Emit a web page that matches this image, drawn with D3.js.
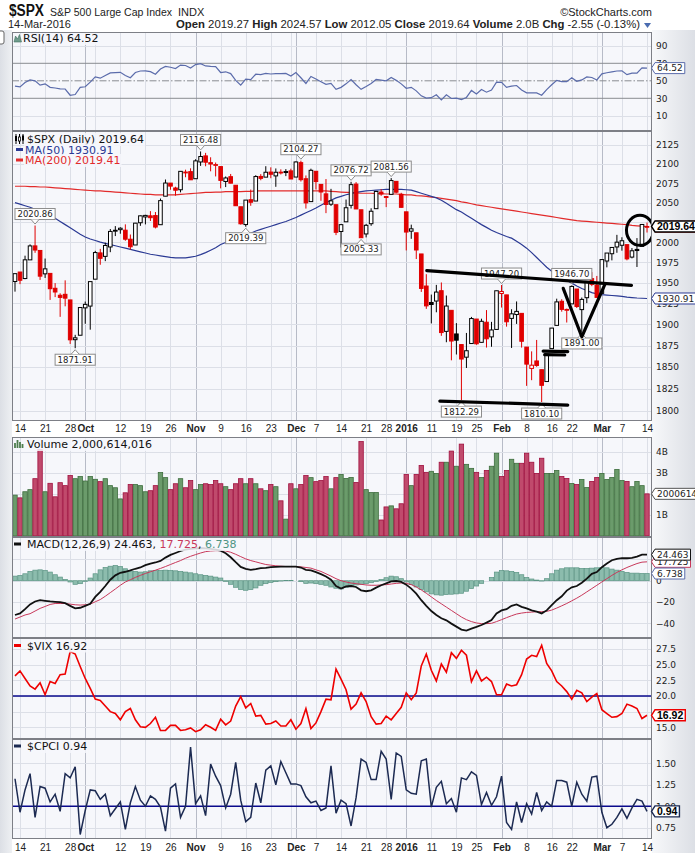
<!DOCTYPE html>
<html>
<head>
<meta charset="utf-8">
<title>$SPX</title>
<script src="https://cdn.jsdelivr.net/npm/d3@7"></script>
<style>
  html, body { margin: 0; padding: 0; background: #fff; }
  svg { display: block; }
  .ax { font: 9px "DejaVu Sans", Verdana, sans-serif; fill: #222; }
  .lg { font: 11px "DejaVu Sans", Verdana, sans-serif; }
  .xl { font: 10px "Liberation Sans", Arial, sans-serif; fill: #222; }
  .pk { font: 8.5px "DejaVu Sans", Verdana, sans-serif; fill: #222; }
  .vb { font: bold 10.5px "Liberation Sans", Arial, sans-serif; fill: #000; }
  .hd { font: 11px "Liberation Sans", Arial, sans-serif; fill: #222; }
</style>
</head>
<body>
<div id="chart"></div>
<script>
/* global d3 */

/*******************************************************************
 * Data (11-Sep-2015 .. 14-Mar-2016)
 *******************************************************************/
const dates = [
  "2015-09-11","2015-09-14","2015-09-15","2015-09-16","2015-09-17","2015-09-18","2015-09-21","2015-09-22","2015-09-23","2015-09-24","2015-09-25","2015-09-28","2015-09-29","2015-09-30",
  "2015-10-01","2015-10-02","2015-10-05","2015-10-06","2015-10-07","2015-10-08","2015-10-09","2015-10-12","2015-10-13","2015-10-14","2015-10-15","2015-10-16","2015-10-19","2015-10-20","2015-10-21","2015-10-22","2015-10-23","2015-10-26","2015-10-27","2015-10-28","2015-10-29","2015-10-30",
  "2015-11-02","2015-11-03","2015-11-04","2015-11-05","2015-11-06","2015-11-09","2015-11-10","2015-11-11","2015-11-12","2015-11-13","2015-11-16","2015-11-17","2015-11-18","2015-11-19","2015-11-20","2015-11-23","2015-11-24","2015-11-25","2015-11-27","2015-11-30",
  "2015-12-01","2015-12-02","2015-12-03","2015-12-04","2015-12-07","2015-12-08","2015-12-09","2015-12-10","2015-12-11","2015-12-14","2015-12-15","2015-12-16","2015-12-17","2015-12-18","2015-12-21","2015-12-22","2015-12-23","2015-12-24","2015-12-28","2015-12-29","2015-12-30","2015-12-31",
  "2016-01-04","2016-01-05","2016-01-06","2016-01-07","2016-01-08","2016-01-11","2016-01-12","2016-01-13","2016-01-14","2016-01-15","2016-01-19","2016-01-20","2016-01-21","2016-01-22","2016-01-25","2016-01-26","2016-01-27","2016-01-28","2016-01-29",
  "2016-02-01","2016-02-02","2016-02-03","2016-02-04","2016-02-05","2016-02-08","2016-02-09","2016-02-10","2016-02-11","2016-02-12","2016-02-16","2016-02-17","2016-02-18","2016-02-19","2016-02-22","2016-02-23","2016-02-24","2016-02-25","2016-02-26","2016-02-29",
  "2016-03-01","2016-03-02","2016-03-03","2016-03-04","2016-03-07","2016-03-08","2016-03-09","2016-03-10","2016-03-11","2016-03-14"
];

const open = [
  1951.45,1963.06,1955.10,1978.02,1995.33,1989.66,1960.84,1961.39,1943.24,1934.81,1935.93,1929.18,1881.90,1887.14,
  1919.65,1921.77,1954.33,1986.63,1982.34,1994.01,2013.73,2015.65,2015.00,2003.66,1996.47,2024.37,2031.73,2033.13,2033.47,2021.88,2058.19,2075.08,2068.75,2066.48,2088.35,2090.00,
  2080.76,2102.63,2110.60,2101.68,2098.60,2096.56,2077.19,2083.41,2072.29,2044.64,2022.08,2053.67,2051.99,2083.70,2082.82,2089.41,2084.42,2089.30,2088.82,2090.95,
  2082.93,2101.71,2080.71,2051.24,2090.42,2073.39,2061.17,2047.93,2047.27,2013.37,2025.55,2046.50,2073.76,2040.81,2010.27,2023.15,2042.20,2063.52,2057.77,2060.54,2077.34,2060.59,
  2038.20,2013.78,2011.71,1985.32,1945.97,1926.12,1927.83,1940.34,1891.68,1916.68,1888.66,1876.18,1861.46,1877.40,1906.28,1878.79,1902.52,1885.22,1894.00,
  1936.94,1935.26,1907.07,1911.67,1913.07,1873.25,1848.46,1857.10,1847.00,1833.40,1871.44,1898.80,1927.57,1916.74,1924.44,1942.38,1917.56,1931.87,1954.95,1947.13,
  1937.09,1976.60,1985.60,1994.01,1996.11,1996.88,1981.44,1990.97,1994.71,2019.27
];
const high = [
  1961.05,1963.06,1983.19,1997.26,2020.86,1989.66,1979.64,1961.39,1949.52,1937.17,1952.89,1929.18,1887.64,1920.53,
  1927.21,1951.36,1989.17,1991.62,1999.31,2016.50,2020.13,2018.66,2022.34,2009.56,2024.15,2033.54,2034.45,2039.12,2037.97,2055.20,2079.74,2075.14,2070.37,2090.35,2092.52,2094.32,
  2106.20,2116.48,2114.59,2108.78,2101.91,2096.56,2083.67,2086.94,2072.29,2044.64,2053.22,2066.69,2085.31,2086.74,2097.06,2095.61,2094.12,2093.00,2093.29,2093.81,
  2103.37,2104.27,2085.00,2093.84,2090.42,2073.85,2080.33,2067.65,2047.27,2022.92,2053.87,2076.72,2076.37,2040.81,2022.90,2042.74,2064.73,2067.36,2057.77,2081.56,2077.34,2062.54,
  2038.20,2021.94,2011.71,1985.32,1960.40,1935.65,1947.38,1950.33,1934.47,1916.68,1901.44,1876.18,1889.85,1908.85,1906.28,1906.73,1916.99,1902.96,1940.24,
  1947.20,1935.26,1918.01,1927.35,1913.07,1873.25,1868.25,1881.60,1847.00,1864.78,1895.77,1930.68,1930.00,1918.78,1946.70,1942.38,1932.08,1951.83,1962.96,1958.27,
  1978.35,1986.51,1993.69,2009.13,2006.12,1996.88,1992.69,2005.08,2022.37,2024.57
];
const low = [
  1939.19,1948.27,1954.30,1977.93,1986.73,1953.45,1955.80,1929.22,1932.57,1908.92,1921.50,1876.92,1871.91,1887.14,
  1900.70,1893.70,1954.33,1971.99,1976.44,1987.53,2007.61,2010.55,2001.78,1990.73,1996.47,2020.46,2022.31,2026.61,2017.22,2021.88,2058.19,2066.53,2058.84,2063.11,2082.63,2079.34,
  2080.76,2097.51,2096.98,2090.41,2083.74,2068.24,2069.91,2074.85,2045.66,2022.02,2019.39,2045.90,2051.99,2078.76,2082.82,2081.39,2070.29,2086.30,2084.13,2080.41,
  2082.93,2077.11,2042.35,2051.24,2066.78,2052.32,2036.53,2045.67,2008.80,1993.26,2025.55,2042.43,2041.66,2005.33,2005.93,2020.49,2042.20,2058.73,2044.20,2060.54,2061.97,2043.62,
  1989.68,2004.17,1979.05,1938.83,1918.46,1901.10,1914.35,1886.41,1878.93,1857.83,1864.60,1812.29,1848.98,1877.40,1875.97,1878.79,1872.70,1873.65,1894.00,
  1920.03,1897.29,1872.23,1900.52,1872.65,1828.46,1834.94,1850.32,1810.10,1833.40,1871.44,1898.80,1915.09,1902.17,1924.44,1919.44,1891.00,1925.41,1945.78,1931.81,
  1937.09,1968.80,1977.37,1986.77,1989.38,1977.43,1979.84,1969.25,1994.71,2012.05
];
const close = [
  1961.05,1953.03,1978.09,1995.31,1990.20,1958.03,1966.97,1942.74,1938.76,1932.24,1931.34,1881.77,1884.09,1920.03,
  1923.82,1951.36,1987.05,1979.92,1995.83,2013.43,2014.89,2017.46,2003.69,1994.24,2023.86,2033.11,2033.66,2030.77,2018.94,2052.51,2075.15,2071.18,2065.89,2090.35,2089.41,2079.36,
  2104.05,2109.79,2102.31,2099.93,2099.20,2078.58,2081.72,2075.00,2045.97,2023.04,2053.19,2050.44,2083.58,2081.24,2089.17,2086.59,2089.14,2088.87,2090.11,2080.41,
  2102.63,2079.51,2049.62,2091.69,2077.07,2063.59,2047.62,2052.23,2012.37,2021.94,2043.41,2073.07,2041.89,2005.55,2021.15,2038.97,2064.29,2060.99,2056.50,2078.36,2063.36,2043.94,
  2012.66,2016.71,1990.26,1943.09,1922.03,1923.67,1938.68,1890.28,1921.84,1880.33,1881.33,1859.33,1868.99,1906.90,1877.08,1903.63,1882.95,1893.36,1940.24,
  1939.38,1903.03,1912.53,1915.45,1880.05,1853.44,1852.21,1851.86,1829.08,1864.78,1895.58,1926.82,1917.83,1917.78,1945.50,1921.27,1929.80,1951.70,1948.05,1932.23,
  1978.35,1986.45,1993.40,1999.99,2001.76,1979.26,1989.26,1989.57,2022.19,2019.64
];
const prevClose = 1952.29;

// billions of shares
const volume = [
  1.94,1.81,2.10,2.20,2.72,4.10,2.10,2.50,1.86,2.53,
  2.39,2.87,2.72,2.82,2.61,2.82,2.69,2.58,2.72,2.39,
  2.29,1.76,2.05,2.44,2.44,2.39,2.10,2.15,2.39,3.01,
  2.77,2.20,2.48,2.72,2.29,2.63,2.20,2.44,2.48,2.44,
  2.63,2.48,2.34,2.20,2.48,2.72,2.48,2.72,2.48,2.24,
  2.15,2.44,2.34,1.67,0.80,2.48,2.24,2.44,2.87,2.77,
  2.58,2.63,2.82,2.24,2.77,2.92,2.73,2.78,2.54,4.48,
  2.20,2.06,2.06,0.76,1.38,1.43,1.29,1.53,2.92,2.39,
  2.92,3.35,3.02,3.07,2.97,3.50,3.50,4.03,3.31,4.36,
  3.40,3.21,3.02,2.78,3.11,3.31,3.93,2.82,3.11,3.64,
  3.45,3.45,3.93,3.50,2.97,3.69,2.97,2.97,3.11,2.82,
  2.73,2.49,2.44,2.68,2.30,2.59,2.78,2.97,2.68,2.78,
  3.16,2.63,2.59,2.34,2.59,2.39,2.000614016
];

const ma50 = [
  2050,2048,2046,2044,2041.5,2039,2036,2033,2030,2026,
  2022,2018,2014,2010,2006.5,2004,2002,2000,1998.5,1997,
  1995.5,1994,1992.5,1991,1989.5,1988,1986.5,1985,1984,1983,
  1982,1981,1980.5,1980.5,1980.5,1981.5,1982.5,1984.5,1987,1990,
  1993,1997,1999.5,2001.5,2003.5,2006,2009,2011,2014,2016,
  2018,2020,2022,2024,2026,2028.5,2031,2034,2037,2040,
  2043,2046.5,2050,2053,2056,2058,2060,2061.5,2063,2064,
  2065,2065.5,2066,2066.5,2067,2067,2067,2067,2066.5,2066,
  2064,2062,2060,2058,2056,2053,2049,2045,2041,2038,
  2034,2030,2026,2022,2018.5,2015,2012,2009.5,2007,2005,
  2001,1997,1992.5,1987,1981,1975,1969,1964,1960,1956.5,
  1953,1949.5,1946,1943,1940.5,1938,1936.5,1935.5,1935,1934.5,
  1934,1933.5,1932.5,1932,1931.5,1931.2,1930.91
];
const ma200 = [
  2071,2071,2071,2070.5,2070.5,2070,2070,2069.5,2069,2068.5,
  2068,2067.5,2067,2066.5,2066,2065.5,2065,2065,2064.5,2064,
  2063.5,2063,2062.5,2062,2061.5,2061,2060.5,2060.5,2060,2060,
  2060,2060,2060,2060.5,2061,2061.5,2062,2062.5,2063,2063,
  2063.5,2063.5,2064,2064,2064,2064,2064.5,2064.5,2065,2065,
  2065,2065,2065,2065,2065,2065,2065,2065,2065,2065,
  2065,2065,2065,2064.5,2064,2063.5,2063,2063,2062.5,2062,
  2062,2062,2061.5,2061.5,2061,2061,2061,2060.5,2060,2060,
  2059,2058.5,2058,2057,2056.5,2055.5,2054.5,2053.5,2052.5,2051,
  2050,2048.5,2047,2046,2045,2044,2043,2042,2041,2040,
  2039,2038,2037,2036,2035,2034,2033,2032,2031,2030,
  2029,2028,2027,2026.5,2026,2025.5,2025,2024.5,2024,2023.5,
  2023,2022.5,2022,2021,2020.5,2020,2019.41
];

const rsi = [
  44,43,48,51,50,45,46.5,42.5,41.8,40.8,
  40.6,33.5,34.3,42.5,43.2,48.5,54.5,53,56,59,
  59.3,59.7,56,53.5,59.5,61.2,61.3,60.5,57.5,63.5,
  66.5,65.5,64,68,67.5,64.5,68.5,69.5,67,66.5,
  66.2,59.5,60.3,58.2,50.5,45,52,51.3,57.5,57,
  58.5,57.8,58.2,58.1,58.4,55.5,59.5,53.5,47,55,
  52,49,46,47,40.2,42.5,46.5,51.5,45.5,40.2,
  43.5,47,51.5,50.8,50,53.8,50.5,46.5,41.5,42.5,
  38.5,32.8,30.2,30.7,34,28.2,34,29.8,30.1,28.5,
  31,39,35,40,37,39.5,48.5,48.3,42.5,44,
  44.6,39.5,36.3,36.2,36.1,33.5,40,45.5,50.5,49,
  49,53.5,49.5,51,54.5,53.8,51,58,59.2,60.3,
  61.2,61.5,57,58.7,58.8,64.8,64.52
];

const macd = [
  -32.2,-30.7,-26.7,-22.3,-19.5,-18.3,-18.9,-19.5,-19.8,-20.2,
  -21.1,-23.6,-26,-25.4,-23.6,-21.7,-15.2,-10.5,-5,0.9,
  5,7.4,8.4,9.6,11.2,12.4,14.6,16.1,17.1,18.6,
  21.7,24.2,26,27.9,29.1,29.8,30.4,30.7,30.4,29.8,
  29.1,28.2,25.7,22,17.4,13,11.2,10.2,10.9,11.8,
  12.1,12.7,13,13.3,13.3,13.3,13.3,12.4,10.2,9.6,
  8.1,6.2,4,0.9,-5,-7.4,-5.3,-5,-5.9,-9,
  -9.9,-9,-6.5,-4.3,-2.5,-0.6,-0.3,-1.2,-3.7,-7.4,
  -12.1,-18.3,-23.6,-28.5,-32.2,-35.3,-37.2,-40.3,-43.1,-45.9,
  -46.8,-45,-43.4,-41.6,-39.4,-36.9,-30.7,-27.9,-26.7,-23.6,
  -22.3,-24.5,-26,-27.9,-29.1,-30.7,-27.9,-22.9,-18.3,-14.6,
  -9.3,-6.2,-5,-1.9,1.9,6.5,8.1,12.7,16.1,19.2,
  20.5,21.1,21.1,21.4,22.6,24.5,24.463
];
const signal = [
  -36,-34.1,-32.2,-31,-28.5,-26,-24.2,-22.3,-21.4,-21.4,
  -21.4,-22,-22.6,-22.9,-22.6,-22,-19.8,-17.7,-14.6,-11.2,
  -7.8,-4.3,-1.2,0.9,3.1,5,6.8,8.4,9.9,11.5,
  13.3,15.2,17.1,18.9,21.1,22.9,24.5,26,27.3,27.9,
  28.2,28.2,27.9,26.7,24.8,22.6,20.5,18.9,17.7,16.4,
  15.2,14.6,14,13.6,13.3,13.3,13.3,13,12.4,11.8,
  10.2,8.7,6.5,4.3,1.9,0,-1.2,-2.2,-2.8,-3.4,
  -4,-4.3,-4.3,-4,-3.7,-3.1,-2.5,-2.2,-2.5,-3.7,
  -5.9,-8.7,-11.8,-15.2,-18.6,-21.7,-24.8,-27.9,-31,-34.1,
  -36.6,-38.4,-39.7,-40.3,-40.3,-40,-38.4,-36.6,-34.7,-32.9,
  -31.3,-30.4,-29.8,-29.5,-29.1,-29.1,-28.8,-27.6,-25.7,-23.6,
  -21.4,-18.9,-16.4,-13.6,-10.5,-7.4,-4.3,-1.2,1.9,5,
  7.8,10.2,12.4,14.3,16.1,17.4,17.725
];
const hist = [
  4.3,5,6.5,8.7,9.9,10.2,9.6,8.1,5.6,3.4,
  1.2,-1.2,-3.4,-2.8,-0.6,2.5,6.5,10.2,12.4,13.6,
  14.3,13.3,11.2,9,8.7,8.1,8.4,9.3,9.6,9.6,
  9.9,9.6,9.3,8.7,8.1,7.4,6.5,5.6,5,4.3,
  3.4,2.5,-0.6,-3.4,-6.2,-8.4,-9,-8.4,-6.8,-4.3,
  -2.8,-1.6,-0.9,-0.3,0.3,0.3,0,-0.9,-2.5,-2.2,
  -2.8,-3.4,-4.3,-5.9,-7.1,-7.8,-6.2,-4.7,-4,-3.4,
  -2.8,-1.9,-0.6,1.2,2.8,4.3,3.7,1.9,-1.2,-3.7,
  -5.9,-8.4,-10.5,-12.4,-13.3,-13.6,-13,-12.7,-12.4,-11.8,
  -9.9,-7.4,-5,-2.5,0,3.1,8.1,9.6,9.3,8.7,
  7.8,5.6,3.1,1.6,0.6,-0.3,1.9,6.5,9.9,11.2,
  12.1,12.1,12.1,11.5,11.5,11.8,12.1,12.4,12.1,10.9,
  9.9,8.7,7.8,7.1,7.1,6.8,6.738
];

const vix = [
  23.2,24.0,22.8,21.6,21.1,22.1,20.2,22.3,22.0,23.4,
  23.5,27.1,26.7,24.7,22.8,21.2,19.5,19.3,18.4,17.5,
  17.2,16.2,17.5,18.0,16.2,15.1,15.0,15.6,16.6,14.5,
  14.5,15.3,15.3,14.5,14.6,14.9,14.3,14.6,15.4,15.0,
  14.5,16.3,15.4,16.0,18.4,19.9,18.1,18.8,16.8,16.9,
  15.5,15.6,16.0,15.2,15.2,16.2,14.7,15.6,18.0,14.8,
  15.7,17.5,19.5,19.4,24.3,22.7,21.0,17.9,18.7,20.5,
  19.1,16.7,15.5,15.6,16.8,16.2,17.2,18.2,20.5,19.4,
  20.5,24.8,26.7,24.1,22.4,25.1,23.8,26.9,26.0,27.3,
  26.5,22.3,24.0,22.4,23.0,22.3,20.2,20.2,21.9,21.6,
  21.8,23.4,25.9,26.5,26.3,28.1,25.2,24.0,22.3,21.6,
  20.7,19.5,20.9,20.5,19.1,19.8,20.4,17.8,17.2,16.6,
  16.7,17.2,18.7,18.4,18.0,16.4,16.92
];

const cpci = [
  1.32,0.93,1.19,1.38,0.87,1.23,1.21,1.05,1.14,0.94,
  1.38,1.33,1.46,0.67,0.95,1.19,1.18,1.08,1.14,0.89,
  0.97,1.05,0.73,1.04,1.23,1.07,1.00,1.12,1.08,0.99,
  0.71,1.21,1.26,0.87,1.00,1.69,1.03,1.12,0.89,1.49,
  1.35,1.24,0.98,1.14,1.51,1.07,0.82,0.87,1.27,1.04,
  1.42,1.47,1.25,1.52,1.39,1.26,1.26,1.24,1.11,1.04,
  1.06,0.95,0.98,1.47,0.92,1.07,1.03,0.77,1.10,1.55,
  1.51,1.31,1.31,1.64,1.55,1.08,1.62,1.58,1.19,1.15,
  1.14,1.53,1.55,0.99,1.22,1.29,1.03,1.09,0.93,1.33,
  1.31,1.40,1.36,1.02,1.16,1.01,1.11,1.35,0.81,0.73,
  1.05,0.81,1.03,0.91,1.16,0.95,1.05,1.00,1.30,1.30,
  1.28,1.00,1.28,1.14,1.06,1.34,1.35,0.93,0.75,0.79,
  0.87,0.97,0.86,0.98,1.08,1.06,0.94
];

// date axis
const tickDates = ["2015-09-14","2015-09-21","2015-09-28","2015-10-01","2015-10-12","2015-10-19","2015-10-26","2015-11-02","2015-11-09","2015-11-16","2015-11-23","2015-12-01","2015-12-07","2015-12-14","2015-12-21","2015-12-28","2016-01-04","2016-01-11","2016-01-19","2016-01-25","2016-02-01","2016-02-08","2016-02-16","2016-02-22","2016-03-01","2016-03-07","2016-03-14"];
const tickText  = ["14","21","28","Oct","12","19","26","Nov","9","16","23","Dec","7","14","21","28","2016","11","19","25","Feb","8","16","22","Mar","7","14"];
const extraGridDates = ["2015-10-05","2015-11-30","2016-02-29"];
const monthStarts = ["2015-10-01","2015-11-02","2015-12-01","2016-01-04","2016-02-01","2016-03-01"];

// grid values and the labels left visible on the right axes
const rsiGrid    = [10, 90];
const rsiTicks   = [10, 30, 50, 70, 90];
const priceGrid  = [1800, 1825, 1850, 1875, 1900, 1925, 1950, 1975, 2000, 2025, 2050, 2075, 2100, 2125];
const priceTicks = [1800, 1825, 1850, 1875, 1900, 1925, 1950, 1975, 2000, 2050, 2075, 2100, 2125];
const volGrid    = [1, 2, 3, 4];
const volTicks   = [1, 3, 4];
const macdGrid   = [-40, -20, 0, 20];
const macdTicks  = [-40, -20, 0];
const vixGrid    = [15, 17.5, 20, 22.5, 25, 27.5];
const vixTicks   = [15, 20, 22.5, 25, 27.5];
const cpciGrid   = [0.75, 1, 1.25, 1.5];
const cpciTicks  = [0.75, 1, 1.25, 1.5];

// labelled highs / lows
const peakMarks = [
  ["2015-09-17","high"],["2015-09-29","low"],["2015-11-03","high"],["2015-11-16","low"],
  ["2015-12-02","high"],["2015-12-16","high"],["2015-12-18","low"],["2015-12-29","high"],
  ["2016-01-20","low"],["2016-02-01","high"],["2016-02-11","low"],["2016-02-22","high"],["2016-02-24","low"]
];

// hand drawn annotations, [trading day index, price]
const trendLines = [
  [[82.1, 1964.7], [122.9, 1946.8]],
  [[84.7, 1811.2], [110.2, 1806.7]],
  [[109.3, 1943.2], [113.0, 1885.3], [117.6, 1948.0]],
  [[105.3, 1868.6], [110.2, 1868.0]],
  [[105.6, 1864.4], [109.6, 1864.0]]
];
const circleMark = [124.6, 2014.8];

/*******************************************************************
 * Layout & scales
 *******************************************************************/
const W = 695, H = 853;
const L = 12, R = 652;
const PANEL_BG = "#f6f7fb";
const RED = "#e00000";

const idx = (d) => dates.indexOf(d);
const x = d3.scaleLinear().domain([0, dates.length - 1]).range([15, 647]);

const yR = d3.scaleLinear().domain([30, 70]).range([98.3, 63.3]);
const yP = d3.scaleLog().domain([1800, 2125]).range([411, 145]);
const yV = d3.scaleLinear().domain([0, 4]).range([536, 451.7]);
const yM = d3.scaleLinear().domain([-40, 0]).range([623.3, 580.7]);
const yX = d3.scaleLinear().domain([15, 27.5]).range([727.3, 649]);
const yC = d3.scaleLinear().domain([0.75, 1.5]).range([827.7, 763.3]);

const panels = [
  { id: "rsi",   top: 32,    bottom: 130.5, y: yR, ticks: rsiTicks,   grid: rsiGrid,   fmt: d3.format("d") },
  { id: "price", top: 130.5, bottom: 421,   y: yP, ticks: priceTicks, grid: priceGrid, fmt: d3.format("d") },
  { id: "vol",   top: 437,   bottom: 537,   y: yV, ticks: volTicks,   grid: volGrid,   fmt: d => d + "B" },
  { id: "macd",  top: 537,   bottom: 638,   y: yM, ticks: macdTicks,  grid: macdGrid,  fmt: d3.format("d") },
  { id: "vix",   top: 638,   bottom: 739,   y: yX, ticks: vixTicks,   grid: vixGrid,   fmt: d3.format(".1f") },
  { id: "cpci",  top: 739,   bottom: 839,   y: yC, ticks: cpciTicks,  grid: cpciGrid,  fmt: d3.format(".2f") }
];
const P = Object.fromEntries(panels.map(p => [p.id, p]));

const svg = d3.select("#chart").append("svg").attr("width", W).attr("height", H);
const defs = svg.append("defs");

function gradient(id, c0, c1) {
  const g = defs.append("linearGradient").attr("id", id).attr("x1", 0).attr("x2", 1).attr("y1", 0).attr("y2", 0);
  g.append("stop").attr("offset", 0).attr("stop-color", c0);
  g.append("stop").attr("offset", 1).attr("stop-color", c1);
}
gradient("rightBg", "#f7f8fa", "#dcdfe5");
gradient("leftBg", "#dcdfe5", "#eef0f3");

svg.append("rect").attr("width", W).attr("height", H).attr("fill", "#fff");
svg.append("rect").attr("x", 0).attr("y", 30).attr("width", L).attr("height", H - 30).attr("fill", "url(#leftBg)");
svg.append("rect").attr("x", R).attr("y", 30).attr("width", W - R).attr("height", H - 30).attr("fill", "url(#rightBg)");
svg.append("rect").attr("x", -4).attr("y", 31).attr("width", 8).attr("height", 13).attr("rx", 2)
  .attr("fill", "#fff").attr("stroke", "#666");

/*******************************************************************
 * Panels: background, grid, right axis
 *******************************************************************/
const gridIdx = tickDates.concat(extraGridDates).map(idx);
const monthIdx = new Set(monthStarts.map(idx));

panels.forEach(p => {
  defs.append("clipPath").attr("id", "clip-" + p.id).append("rect")
    .attr("x", L).attr("y", p.top).attr("width", R - L).attr("height", p.bottom - p.top);
  svg.append("rect").attr("x", L).attr("y", p.top).attr("width", R - L).attr("height", p.bottom - p.top)
    .attr("fill", PANEL_BG);

  const grid = svg.append("g").attr("clip-path", `url(#clip-${p.id})`).attr("shape-rendering", "crispEdges");
  grid.selectAll("line.v").data(gridIdx).join("line").attr("class", "v")
    .attr("x1", d => Math.round(x(d)) + 0.5).attr("x2", d => Math.round(x(d)) + 0.5)
    .attr("y1", p.top).attr("y2", p.bottom)
    .attr("stroke", d => monthIdx.has(d) ? "#b7bbc7" : "#dcdfe7");
  grid.selectAll("line.h").data(p.grid).join("line").attr("class", "h")
    .attr("x1", L).attr("x2", R)
    .attr("y1", d => Math.round(p.y(d)) + 0.5).attr("y2", d => Math.round(p.y(d)) + 0.5)
    .attr("stroke", "#dcdfe7");

  p.g = svg.append("g").attr("clip-path", `url(#clip-${p.id})`);

  const ax = svg.append("g").attr("transform", `translate(${R},0)`)
    .call(d3.axisRight(p.y).tickValues(p.ticks).tickFormat(p.fmt).tickSize(0).tickPadding(4));
  ax.select(".domain").remove();
  ax.selectAll("text").attr("class", "ax");
});

function dateAxis(yPos, pad) {
  const tickIdx = tickDates.map(idx);
  const ax = svg.append("g").attr("transform", `translate(0,${yPos})`)
    .call(d3.axisBottom(x).tickValues(tickIdx).tickFormat((d, i) => tickText[i]).tickSize(0).tickPadding(pad));
  ax.select(".domain").remove();
  ax.selectAll("text").attr("class", "xl")
    .style("font-weight", (d, i) => (isNaN(+tickText[i]) || tickText[i].length === 4) ? "bold" : "normal");
}
dateAxis(P.price.bottom, 4);
dateAxis(P.cpci.bottom, 5);

const lineOf = (y) => d3.line().x((d, i) => x(i)).y(d => y(d));

/*******************************************************************
 * RSI
 *******************************************************************/
{
  const g = P.rsi.g;
  g.append("line").attr("x1", L).attr("x2", R).attr("y1", yR(70)).attr("y2", yR(70)).attr("stroke", "#8a8c92");
  g.append("line").attr("x1", L).attr("x2", R).attr("y1", yR(30)).attr("y2", yR(30)).attr("stroke", "#8a8c92");
  g.append("line").attr("x1", L).attr("x2", R).attr("y1", yR(50)).attr("y2", yR(50))
    .attr("stroke", "#8a8c92").attr("stroke-dasharray", "7,2,1.5,2");
  g.append("path").attr("d", lineOf(yR)(rsi)).attr("fill", "none").attr("stroke", "#5b6cab").attr("stroke-width", 1.2);
}

/*******************************************************************
 * Price: moving averages, candles, labels, annotations
 *******************************************************************/
{
  const g = P.price.g;
  g.append("path").attr("d", lineOf(yP)(ma200)).attr("fill", "none").attr("stroke", "#e22b2b").attr("stroke-width", 1.2);
  g.append("path").attr("d", lineOf(yP)(ma50)).attr("fill", "none").attr("stroke", "#2b3a94").attr("stroke-width", 1.2);

  const c = g.selectAll("g.candle").data(d3.range(close.length)).join("g").attr("class", "candle");
  c.each(function (i) {
    const s = d3.select(this);
    const pc = i ? close[i - 1] : prevClose;
    const col = close[i] >= pc ? "#000" : RED;
    const filled = close[i] < open[i];
    const cx = x(i);
    s.append("line").attr("x1", cx).attr("x2", cx).attr("y1", yP(high[i])).attr("y2", yP(low[i]))
      .attr("stroke", col).attr("stroke-width", 1);
    const y0 = yP(Math.max(open[i], close[i])), y1 = yP(Math.min(open[i], close[i]));
    s.append("rect").attr("x", cx - 1.8).attr("y", y0).attr("width", 3.6).attr("height", Math.max(0.8, y1 - y0))
      .attr("fill", filled ? col : "#fff").attr("stroke", col).attr("stroke-width", 1);
  });

  // hi / lo labels
  peakMarks.forEach(([d, side]) => {
    const i = idx(d);
    const v = side === "high" ? high[i] : low[i];
    const cx = x(i), vy = yP(v);
    const lg = g.append("g");
    const bh = 11;
    const by = side === "high" ? vy - 6 - bh : vy + 6;
    const t = lg.append("text").attr("class", "pk").attr("x", cx).attr("y", by + bh / 2).attr("dy", "0.35em")
      .attr("text-anchor", "middle").text(v.toFixed(2));
    const w = t.node().getComputedTextLength() + 5;
    lg.insert("rect", "text").attr("x", cx - w / 2).attr("y", by).attr("width", w).attr("height", bh)
      .attr("fill", "#fff").attr("stroke", "#8c8c8c");
    const edge = side === "high" ? by + bh : by;
    const tip = side === "high" ? vy - 1.5 : vy + 1.5;
    lg.insert("path", "text").attr("d", `M${cx - 4},${edge} L${cx},${tip} L${cx + 4},${edge}`)
      .attr("fill", "#fff").attr("stroke", "#8c8c8c");
  });

  const ann = d3.line().x(d => x(d[0])).y(d => yP(d[1]));
  trendLines.forEach(pts => {
    g.append("path").attr("d", ann(pts)).attr("fill", "none").attr("stroke", "#000")
      .attr("stroke-width", 3.2).attr("stroke-linecap", "round").attr("stroke-linejoin", "round");
  });
  g.append("ellipse").attr("cx", x(circleMark[0])).attr("cy", yP(circleMark[1])).attr("rx", 13.5).attr("ry", 15)
    .attr("fill", "none").attr("stroke", "#000").attr("stroke-width", 3);
}

/*******************************************************************
 * Volume
 *******************************************************************/
const isUp = (i) => close[i] >= (i ? close[i - 1] : prevClose);
P.vol.g.selectAll("rect").data(volume).join("rect")
  .attr("x", (d, i) => x(i) - 2.2).attr("width", 4.4)
  .attr("y", d => yV(d)).attr("height", d => yV(0) - yV(d))
  .attr("fill", (d, i) => isUp(i) ? "#6b9b6b" : "#c04a6c")
  .attr("stroke", (d, i) => isUp(i) ? "#3d6d3d" : "#a0103e")
  .attr("stroke-width", 0.8);

/*******************************************************************
 * MACD
 *******************************************************************/
{
  const g = P.macd.g;
  g.selectAll("rect").data(hist).join("rect")
    .attr("x", (d, i) => x(i) - 2.2).attr("width", 4.4)
    .attr("y", d => Math.min(yM(d), yM(0))).attr("height", d => Math.abs(yM(d) - yM(0)))
    .attr("fill", "#8cbcad").attr("stroke", "#5a9483").attr("stroke-width", 0.7);
  g.append("path").attr("d", lineOf(yM)(signal)).attr("fill", "none").attr("stroke", "#c8385a").attr("stroke-width", 1);
  g.append("path").attr("d", lineOf(yM)(macd)).attr("fill", "none").attr("stroke", "#111").attr("stroke-width", 1.8);
}

/*******************************************************************
 * VIX & CPCI
 *******************************************************************/
P.vix.g.append("line").attr("x1", L).attr("x2", R).attr("y1", yX(20)).attr("y2", yX(20)).attr("stroke", "#0a0a8c").attr("stroke-width", 1.5);
P.vix.g.append("path").attr("d", lineOf(yX)(vix)).attr("fill", "none").attr("stroke", "#ee0000").attr("stroke-width", 1.6);
P.cpci.g.append("line").attr("x1", L).attr("x2", R).attr("y1", yC(1)).attr("y2", yC(1)).attr("stroke", "#0a0a8c").attr("stroke-width", 1.5);
P.cpci.g.append("path").attr("d", lineOf(yC)(cpci)).attr("fill", "none").attr("stroke", "#1c2a52").attr("stroke-width", 1.5);

/*******************************************************************
 * Legends
 *******************************************************************/
function legend(xp, yb, parts) {
  const t = svg.append("text").attr("class", "lg").attr("x", xp).attr("y", yb);
  parts.forEach(([s, c]) => t.append("tspan").attr("fill", c).text(s));
  const bb = t.node().getBBox();
  svg.insert("rect", () => t.node()).attr("x", bb.x - 1).attr("y", bb.y).attr("width", bb.width + 2).attr("height", bb.height)
    .attr("fill", PANEL_BG).attr("opacity", 0.85);
}
function dash(x0, yc, col) {
  svg.append("line").attr("x1", x0).attr("x2", x0 + 7).attr("y1", yc).attr("y2", yc).attr("stroke", col).attr("stroke-width", 3);
}
const last = close.length - 1;
const shares = Math.round(volume[last] * 1e9);

// RSI
svg.append("path").attr("d", "M14,42 L15.5,36 L17.5,39 L19.5,34.5 L21.5,42 Z").attr("fill", "#6f9c8c").attr("stroke", "#3f6f60").attr("stroke-width", 0.6);
legend(23, 42, [[`RSI(14) ${rsi[last].toFixed(2)}`, "#111"]]);

// price
svg.append("path").attr("d", "M16,134 V144 M19.5,134 V144 M23,134 V144").attr("stroke", "#000").attr("stroke-width", 1);
svg.append("rect").attr("x", 15).attr("y", 136).attr("width", 2).attr("height", 5).attr("fill", "#000");
svg.append("rect").attr("x", 18.5).attr("y", 137).attr("width", 2).attr("height", 4).attr("fill", "#fff").attr("stroke", "#000").attr("stroke-width", 0.8);
svg.append("rect").attr("x", 22).attr("y", 135.5).attr("width", 2).attr("height", 5).attr("fill", "#000");
legend(27, 143, [[`$SPX (Daily) ${close[last].toFixed(2)}`, "#111"]]);
dash(16, 149.5, "#2b3a94");
legend(25, 153.5, [[`MA(50) ${ma50[last].toFixed(2)}`, "#2b3a94"]]);
dash(16, 160, "#e22b2b");
legend(25, 164, [[`MA(200) ${ma200[last].toFixed(2)}`, "#e22b2b"]]);

// volume
svg.append("path").attr("d", "M15,448 V443 M17.5,448 V440 M20,448 V442 M22.5,448 V444").attr("stroke", "#4d7d4d").attr("stroke-width", 1.8);
legend(27, 448, [[`Volume ${d3.format(",")(shares)}`, "#111"]]);

// MACD
dash(14, 544, "#111");
legend(27, 548, [["MACD(12,26,9) " + macd[last].toFixed(3) + ", ", "#111"], [signal[last].toFixed(3), "#c8385a"], [", ", "#111"], [hist[last].toFixed(3), "#4f9483"]]);

// VIX
dash(14, 645.5, "#ee0000");
legend(27, 649.5, [[`$VIX ${vix[last].toFixed(2)}`, "#111"]]);

// CPCI
dash(14, 746, "#1c2a52");
legend(27, 750, [[`$CPCI ${cpci[last].toFixed(2)}`, "#111"]]);

/*******************************************************************
 * Panel frames
 *******************************************************************/
panels.forEach(p => {
  svg.append("rect").attr("x", L + 0.5).attr("y", p.top + 0.5).attr("width", R - L - 1).attr("height", p.bottom - p.top - 1)
    .attr("fill", "none").attr("stroke", "#7d7f86").attr("shape-rendering", "crispEdges");
});

/*******************************************************************
 * Last value tags on the right axis
 *******************************************************************/
function valueTag(yv, label, stroke, bold) {
  const g = svg.append("g");
  const t = g.append("text").attr("class", bold ? "vb" : "ax").attr("x", 657).attr("y", yv).attr("dy", "0.35em").text(label);
  const w = t.node().getComputedTextLength();
  const h = 11, x1 = 657 + w + 2;
  g.insert("path", "text")
    .attr("d", `M${R - 0.5},${yv} L${R + 3},${yv - h / 2} L${x1},${yv - h / 2} L${x1},${yv + h / 2} L${R + 3},${yv + h / 2} Z`)
    .attr("fill", "#fff").attr("stroke", stroke).attr("stroke-width", bold ? 1.4 : 1);
}
valueTag(yR(rsi[last]), rsi[last].toFixed(2), "#5b6cab", false);
valueTag(yP(ma200[last]), ma200[last].toFixed(2), "#e22b2b", false);
valueTag(yP(close[last]), close[last].toFixed(2), "#000", true);
valueTag(yP(ma50[last]), ma50[last].toFixed(2), "#2b3a94", false);
valueTag(yV(volume[last]), String(shares), "#555", false);
valueTag(yM(signal[last]), signal[last].toFixed(3), "#c8385a", false);
valueTag(yM(macd[last]), macd[last].toFixed(3), "#111", false);
valueTag(yM(hist[last]), hist[last].toFixed(3), "#5b6cab", false);
valueTag(yX(vix[last]), vix[last].toFixed(2), "#ee0000", true);
valueTag(yC(cpci[last]), cpci[last].toFixed(2), "#1c2a52", true);

/*******************************************************************
 * Header
 *******************************************************************/
svg.append("text").attr("x", 9).attr("y", 16).attr("textLength", 35).attr("lengthAdjust", "spacingAndGlyphs")
  .style("font", "bold 16px 'Liberation Sans Narrow', 'Liberation Sans', Arial, sans-serif").attr("fill", "#111").text("$SPX");
svg.append("text").attr("class", "hd").attr("x", 50).attr("y", 16).attr("textLength", 122).attr("lengthAdjust", "spacingAndGlyphs")
  .text("S&P 500 Large Cap Index");
svg.append("text").attr("class", "hd").attr("x", 178).attr("y", 16).text("INDX");
svg.append("text").attr("class", "hd").attr("x", 652).attr("y", 16).attr("text-anchor", "end").attr("fill", "#444")
  .text("\u00A9StockCharts.com");
svg.append("text").attr("class", "hd").attr("x", 8).attr("y", 28).attr("textLength", 63).attr("lengthAdjust", "spacingAndGlyphs")
  .text("14-Mar-2016");

const stats = [["Open", open[last].toFixed(2)], ["High", high[last].toFixed(2)], ["Low", low[last].toFixed(2)],
  ["Close", close[last].toFixed(2)], ["Volume", "2.0B"], ["Chg", "-2.55 (-0.13%)"]];
const st = svg.append("text").attr("class", "hd").attr("x", 176).attr("y", 28)
  .attr("textLength", 464).attr("lengthAdjust", "spacingAndGlyphs");
stats.forEach(([k, v], i) => {
  st.append("tspan").style("font-weight", "bold").text((i ? "  " : "") + k + " ");
  st.append("tspan").text(v);
});
svg.append("path").attr("d", "M644,23 L651,23 L647.5,28 Z").attr("fill", "#4a6cb0");
</script>
</body>
</html>
